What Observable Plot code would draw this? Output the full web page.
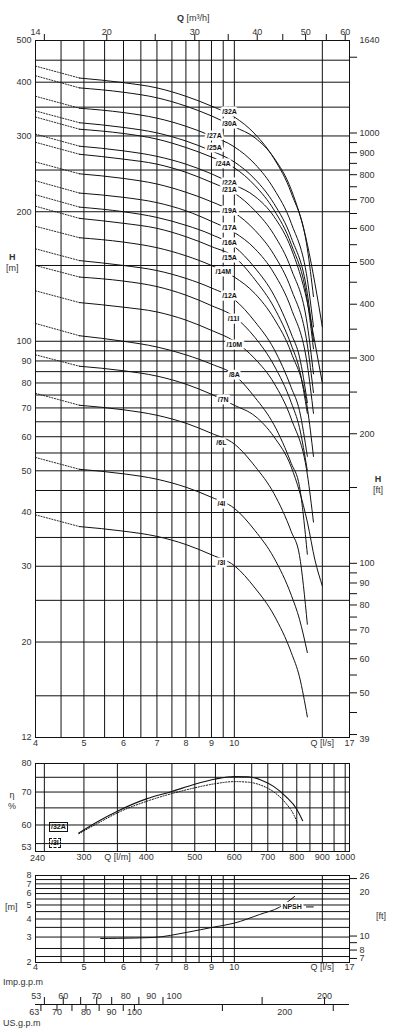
<!DOCTYPE html>
<html><head><meta charset="utf-8">
<script src="https://cdn.jsdelivr.net/npm/d3@7"></script>
<script src="https://cdn.jsdelivr.net/npm/@observablehq/plot@0.6"></script>
<style>
body{margin:0;background:#fff;}
#wrap{position:relative;width:397px;height:1030px;overflow:hidden;font-family:"Liberation Sans",Arial,sans-serif;color:#333;}
#wrap svg{position:absolute;left:0;}
.t{position:absolute;font-size:9px;line-height:11px;white-space:nowrap;}
.box{position:absolute;font-size:7px;font-weight:bold;line-height:8px;padding:0 1px;color:#111;background:#fff;}
</style></head><body><div id="wrap">
<div class="t" style="left:177px;top:13px"><b>Q</b> [m³/h]</div>
<div class="t" style="left:6px;top:252px;text-align:center"><b>H</b><br>[m]</div>
<div class="t" style="left:373px;top:474px;text-align:center"><b>H</b><br>[ft]</div>
<div class="t" style="left:8px;top:790px;text-align:center">η<br>%</div>
<div class="t" style="left:5px;top:902px">[m]</div>
<div class="t" style="left:376px;top:911px">[ft]</div>
<div class="t" style="left:3px;top:977px">Imp.g.p.m</div>
<div class="t" style="left:3px;top:1018px">US.g.p.m</div>
<div class="box" style="left:49px;top:822px;border:1px solid #111">/32A</div>
<div class="box" style="left:49px;top:838px;border:1px dashed #111">/3I</div>
</div>
<script>
// ---------- data ----------
const curveNames = ["/32A","/30A","/27A","/25A","/24A","/22A","/21A","/19A","/17A","/16A","/15A","/14M","/12A","/11I","/10M","/8A","/7N","/6L","/4I","/3I"];
const qShort = [4, 4.9, 6, 7, 8, 9, 10, 11, 12, 13, 13.5, 14];
const qMid   = [4, 4.9, 6, 7, 8, 9, 10, 11, 12, 13, 14, 14.4];
const qLong  = [4, 4.9, 6, 7, 8, 9, 10, 11, 12, 13, 14, 14.5, 15];
const H_32A = [436, 409, 399, 388, 371, 352, 332, 303, 266, 221, 164, 127];
const H_30A = [414, 388, 379, 368, 352, 334, 315, 297, 267, 225, 168, 136, 108];
const H_27A = [371, 348, 340, 330, 316, 300, 283, 258, 226, 188, 139, 108];
const H_25A = [343, 322, 314, 305, 292, 277, 261, 238, 209, 174, 129, 100];
const H_24A = [332, 311, 304, 295, 282, 268, 253, 230, 202, 168, 124, 96];
const H_22A = [303, 284, 277, 269, 258, 245, 231, 217, 195, 164, 123, 99, 80];
const H_21A = [290, 272, 265, 258, 247, 234, 221, 201, 177, 147, 109, 84];
const H_19A = [261, 245, 239, 232, 222, 211, 199, 181, 159, 132, 98, 76];
const H_17A = [236, 221, 216, 210, 201, 190, 179, 164, 144, 119, 88, 68];
const H_16A = [219, 205, 200, 194, 186, 177, 166, 148, 128, 104, 92, 72];
const H_15A = [206, 193, 188, 183, 175, 166, 157, 139, 120, 98, 86, 68];
const H_14M = [185, 174, 170, 165, 158, 150, 141, 129, 113, 94, 70, 54];
const H_12A = [164, 154, 150, 146, 140, 133, 125, 111, 96, 78, 69, 54];
const H_11I = [150, 141, 138, 134, 128, 121, 114, 102, 88, 72, 63, 50];
const H_10M = [131, 123, 120, 117, 112, 106, 100, 91, 80, 66, 49, 38];
const H_8A  = [110, 103, 100, 97, 93, 88.5, 83.5, 74, 64, 52, 46, 32];
const H_7N  = [93, 87.5, 85.4, 83, 79.5, 75.3, 71, 67, 60, 51, 38, 31, 27];
const H_6L  = [75.7, 71, 69.3, 67.3, 64.5, 61.1, 57.7, 51.2, 44.3, 36.1, 31.8, 22];
const H_4I  = [53.7, 50.4, 49.2, 47.8, 45.8, 43.4, 40.9, 36.3, 31.4, 25.7, 22.6, 18.9];
const H_3I  = [39.5, 37.1, 36.2, 35.2, 33.7, 31.9, 30.1, 26.7, 23.1, 18.9, 16.6, 13.4];
const curveQ = [qMid, qLong, qMid, qMid, qMid, qLong, qMid, qMid, qMid, qShort, qShort, qMid, qShort, qShort, qMid, qShort, qLong, qShort, qShort, qShort];
const curveH = [H_32A, H_30A, H_27A, H_25A, H_24A, H_22A, H_21A, H_19A, H_17A, H_16A, H_15A, H_14M, H_12A, H_11I, H_10M, H_8A, H_7N, H_6L, H_4I, H_3I];
const labelQ = [9.78, 9.78, 9.12, 9.12, 9.5, 9.78, 9.78, 9.78, 9.78, 9.78, 9.78, 9.5, 9.78, 9.96, 10, 10, 9.5, 9.42, 9.42, 9.42];
const labelH = [341, 320, 300, 281, 258, 234, 224.5, 200.6, 184, 169, 156, 144.7, 127.3, 113, 98.4, 83.4, 73.3, 58, 42, 30.6];

// efficiency
const effQ32A = [293, 320, 350, 400, 450, 500, 550, 600, 640, 680, 720, 760, 800, 822];
const eff32A  = [57.8, 61.0, 64.0, 67.8, 70.2, 72.6, 74.4, 75.3, 75.2, 74.0, 71.8, 68.6, 64.6, 61.2];
const effQ3I  = [293, 320, 350, 400, 450, 500, 550, 600, 640, 680, 720, 760, 790, 802];
const eff3I   = [57.6, 60.5, 63.5, 67.0, 69.5, 71.4, 72.8, 73.5, 73.3, 72.2, 70.0, 66.5, 62.8, 60.6];
// NPSH
const npshQ = [5.4, 5.83, 6.88, 8.06, 9.07, 9.98, 11.24, 12.32, 13.2];
const npshH = [2.93, 2.94, 2.98, 3.24, 3.51, 3.74, 4.30, 4.83, 5.73];
const npshLabel = {text: "NPSH", q: 13.05, h: 4.85, leaderQ1: 13.95, leaderQ2: 14.45};

// axes / ticks
const qGrid = [4.5, 5, 5.5, 6, 6.5, 7, 7.5, 8, 8.5, 9, 9.5, 10, 15];
const qLabels = [4, 5, 6, 7, 8, 9, 10, 15, 17];
const hGrid = [15, 20, 25, 30, 35, 40, 45, 50, 55, 60, 65, 70, 75, 80, 85, 90, 95, 100, 150, 200, 250, 300, 350, 400, 450];
const hLabels = [12, 20, 30, 40, 50, 60, 70, 80, 90, 100, 200, 300, 400, 500];
const ftTicks = [40, 45, 50, 55, 60, 65, 70, 75, 80, 85, 90, 95, 100, 150, 200, 250, 300, 350, 400, 450, 500, 550, 600, 650, 700, 750, 800, 850, 900, 950, 1000, 1500];
const ftLabels = [39, 50, 60, 70, 80, 90, 100, 200, 300, 400, 500, 600, 700, 800, 900, 1000, 1640];
const m3hTicks = [15, 20, 25, 30, 35, 40, 45, 50, 55, 60];
const m3hLabels = [14, 20, 30, 40, 50, 60];
const effXGrid = [250, 300, 350, 400, 450, 500, 550, 600, 650, 700, 750, 800, 850, 900, 950, 1000];
const effXLabels = [240, 300, 350, 400, 500, 600, 700, 800, 900, 1000];
const effYGrid = [55, 60, 65, 70, 75];
const effYLabels = [53, 60, 70, 80];
const npshYGrid = [2.2, 2.5, 3, 3.5, 4, 4.5, 5, 5.5, 6, 6.5, 7, 7.5];
const npshYLabels = [2, 3, 4, 5, 6, 7, 8];
const npshFtTicks = [7, 8, 9, 10, 25];
const npshFtLabels = [7, 8, 10, 20, 26];
const impTicks = [55, 60, 65, 70, 75, 85, 95, 150, 200];
const impLabels = [53, 60, 70, 80, 90, 100, 200];
const usTicks = [65, 70, 75, 80, 85, 95, 100, 150, 250];
const usLabels = [63, 70, 80, 90, 100, 200];

// ---------- build ----------
const FT = 0.3048, M3H = 3.6, IMP = 13.198, USG = 15.85;
const FONT = "Liberation Sans, Arial, sans-serif";
const INK = "#111", TXT = "#333";
const dotRows = [], solidRows = [];
curveNames.forEach((name, i) => {
  curveQ[i].forEach((q, j) => {
    const r = {name, q, h: curveH[i][j]};
    if (j <= 1) dotRows.push(r);
    if (j >= 1) solidRows.push(r);
  });
});
const labelRows = curveNames.map((name, i) => ({name, q: labelQ[i], h: labelH[i]}));
const wrap = document.getElementById("wrap");
function place(svg, top) { svg.style.top = top + "px"; wrap.appendChild(svg); }
const base = {width: 397, marginLeft: 35, marginRight: 48,
  style: {fontFamily: FONT, fontSize: "9px", color: TXT, background: "transparent", overflow: "visible"}};
const qFmt = d => d === 15 ? "Q [l/s]" : String(d);
const leftLab = (vals, dy = 0) => Plot.text(vals, {y: d => d, text: String, frameAnchor: "left", dx: -4, dy, textAnchor: "end", fill: TXT});
const rightLab = (vals, toY, fmt) => Plot.text(vals, {y: toY, text: fmt, frameAnchor: "right", dx: 10, textAnchor: "start", fill: TXT});
const botLab = (vals, fmt, dy, dx = 0) => Plot.text(vals, {x: d => d, text: fmt, frameAnchor: "bottom", dy, dx, fill: TXT});
const tickMarks = (vals, anchor, k) => (k === "x" ? Plot.axisX : Plot.axisY)(vals, {anchor, tickSize: 7, tickFormat: () => "", label: null, stroke: INK});

// main H chart
place(Plot.plot({...base, height: 757, marginTop: 40, marginBottom: 20,
  x: {type: "log", domain: [4, 17]},
  y: {type: "log", domain: [12, 500]},
  marks: [
    Plot.ruleX(qGrid, {stroke: INK, strokeWidth: 1}),
    Plot.ruleY(hGrid, {stroke: INK, strokeWidth: 1}),
    Plot.frame({stroke: INK, strokeWidth: 1}),
    Plot.line(dotRows, {x: "q", y: "h", z: "name", stroke: INK, strokeWidth: 0.9, strokeDasharray: "1.2,1.6"}),
    Plot.line(solidRows, {x: "q", y: "h", z: "name", stroke: INK, strokeWidth: 1, curve: "monotone-x"}),
    Plot.text(labelRows, {x: "q", y: "h", text: "name", fill: INK, stroke: "white", strokeWidth: 5, fontSize: 7, fontWeight: "bold", paintOrder: "stroke"}),
    leftLab(hLabels),
    tickMarks(ftTicks.map(v => v * FT), "right", "y"),
    rightLab(ftLabels, d => d * FT, String),
    tickMarks(m3hTicks.map(v => v / M3H), "top", "x"),
    Plot.text(m3hLabels, {x: d => Math.max(4, d / M3H), text: String, frameAnchor: "top", dy: -12, fill: TXT}),
    botLab(qLabels, qFmt, 8)
  ]
}), 0);

// efficiency chart
const effRows = effQ32A.map((q, i) => ({q, e: eff32A[i]}));
const effRows3 = effQ3I.map((q, i) => ({q, e: eff3I[i]}));
place(Plot.plot({...base, height: 113, marginTop: 6, marginBottom: 19,
  x: {type: "log", domain: [240, 1020], axis: null},
  y: {type: "log", domain: [53, 80], axis: null},
  marks: [
    Plot.ruleX(effXGrid, {stroke: INK}),
    Plot.ruleY(effYGrid, {stroke: INK}),
    Plot.frame({stroke: INK}),
    Plot.line(effRows3, {x: "q", y: "e", stroke: INK, strokeWidth: 1, strokeDasharray: "1.2,1.6", curve: "monotone-x"}),
    Plot.line(effRows, {x: "q", y: "e", stroke: INK, strokeWidth: 1.1, curve: "monotone-x"}),
    leftLab(effYLabels.filter(d => d !== 53)),
    leftLab(effYLabels.filter(d => d === 53), -4),
    botLab(effXLabels.filter(d => d !== 240), d => d === 350 ? "Q [l/m]" : String(d), 8),
    botLab(effXLabels.filter(d => d === 240), String, 9, 2)
  ]
}), 757);

// NPSH chart
const npshRows = npshQ.map((q, i) => ({q, n: npshH[i]}));
place(Plot.plot({...base, height: 108, marginTop: 5, marginBottom: 16,
  x: {type: "log", domain: [4, 17], axis: null},
  y: {type: "log", domain: [2, 8]},
  marks: [
    Plot.ruleX(qGrid, {stroke: INK}),
    Plot.ruleY(npshYGrid, {stroke: INK}),
    Plot.frame({stroke: INK}),
    Plot.line(npshRows, {x: "q", y: "n", stroke: INK, strokeWidth: 1, curve: "monotone-x"}),
    Plot.ruleY([npshLabel], {y: "h", x1: "leaderQ1", x2: "leaderQ2", stroke: INK, strokeWidth: 1}),
    Plot.text([npshLabel], {x: "q", y: "h", text: "text", fill: INK, stroke: "white", strokeWidth: 4, fontSize: 7, fontWeight: "bold", paintOrder: "stroke"}),
    leftLab(npshYLabels),
    tickMarks(npshFtTicks.map(v => v * FT), "right", "y"),
    rightLab(npshFtLabels, d => d * FT, String),
    botLab(qLabels, qFmt, 7)
  ]
}), 870);

// gallon scales
place(Plot.plot({...base, height: 52, marginTop: 25, marginBottom: 26,
  x: {type: "log", domain: [4, 17]},
  y: {domain: [0, 1], axis: null},
  marks: [
    Plot.ruleY([0], {stroke: INK, strokeWidth: 1}),
    tickMarks(impTicks.map(v => v / IMP), "top", "x"),
    Plot.text(impLabels, {x: d => d / IMP, text: String, frameAnchor: "top", dy: -11, fill: TXT}),
    tickMarks(usTicks.map(v => v / USG), "bottom", "x"),
    Plot.text(usLabels, {x: d => d / USG, text: String, frameAnchor: "bottom", dy: 10, fill: TXT})
  ]
}), 978);
</script></body></html>
